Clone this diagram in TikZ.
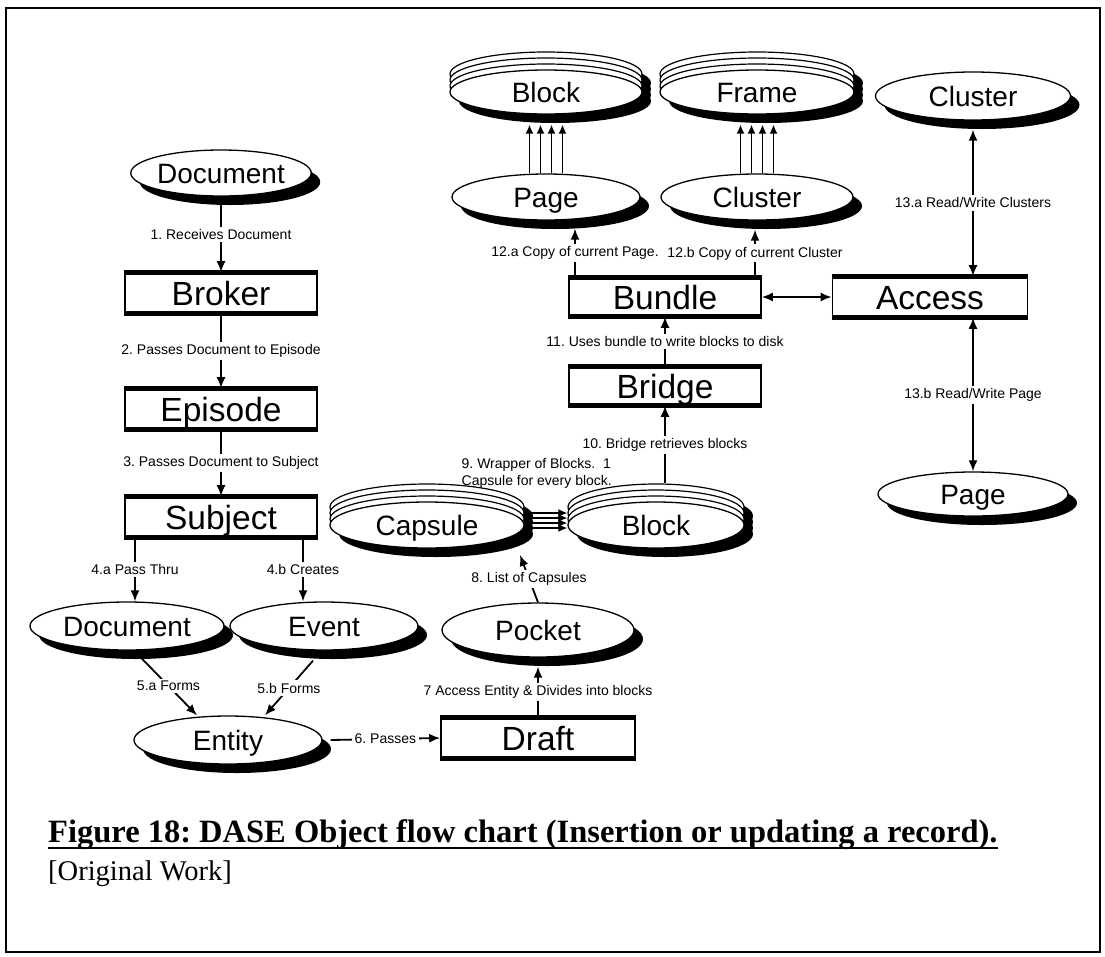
\documentclass[tikz,border=0pt]{standalone}
\usepackage{fontspec}
\setmainfont{Liberation Sans}
\newfontfamily\capfont{Liberation Serif}
\usetikzlibrary{shapes.geometric,shadows,calc,arrows.meta}
\frenchspacing
% three outlined ellipses stacked behind a front ellipse, each with its own black shadow
\newcommand\stacklayers[3]{%
  \foreach \k in {3,2,1}{%
    \fill[black] ($(#1)+(9,9-6*\k)$) ellipse [x radius=#2, y radius=#3];
    \draw[line width=1.2pt, fill=white] ($(#1)+(0,-6*\k)$) ellipse [x radius=#2, y radius=#3];
  }}
\begin{document}
\begin{tikzpicture}[x=1pt, y=-1pt,
  every node/.style={inner sep=0pt},
  box/.style={rectangle, draw, fill=white, line width=1.6pt,
    minimum width=192pt, minimum height=40pt,
    font=\fontsize{33.5}{33.5}\selectfont, text height=24pt, text depth=0pt,
    append after command={(\tikzlastnode.north west) edge[line width=4.8pt] (\tikzlastnode.north east)
      (\tikzlastnode.south west) edge[line width=4.8pt] (\tikzlastnode.south east)}},
  ell/.style={ellipse, draw, fill=white, line width=1.3pt,
    minimum width=190pt, minimum height=46pt,
    font=\fontsize{28}{28}\selectfont, text height=20pt, text depth=0pt,
    drop shadow={shadow xshift=9pt, shadow yshift=-9pt, fill=black, opacity=1}},
  arr/.style={-{Latex[length=11pt,width=9pt]}, line width=1.8pt},
  darr/.style={{Latex[length=11pt,width=9pt]}-{Latex[length=11pt,width=9pt]}, line width=1.8pt},
  arrs/.style={-{Latex[length=9pt,width=8pt]}, line width=1.5pt},
  lbl/.style={fill=white, inner sep=2.5pt, font=\fontsize{14}{16}\selectfont},
]
\useasboundingbox (0,0) rectangle (1105,956);

% ---- left column: document intake ----
\node[ell, minimum width=180pt] (doc1) at (221,173) {Document};
\node[box] (broker) at (221,293) {Broker};
\node[box] (episode) at (221,409) {Episode};
\node[box] (subject) at (221,517) {Subject};
\node[ell, minimum width=194pt, minimum height=48pt] (doc2) at (127,626) {Document};
\node[ell, minimum width=188pt, minimum height=48pt] (event) at (324,626) {Event};
\node[ell, minimum width=188pt, minimum height=48pt] (entity) at (228,740) {Entity};
\node[box, minimum width=194pt] (draft) at (538,738) {Draft};
\node[ell, minimum width=192pt, minimum height=54pt] (pocket) at (538,630) {Pocket};

% ---- capsules and blocks ----
\coordinate (capc) at (427,525);
\stacklayers{capc}{97}{23}
\node[ell, minimum width=194pt] (capsule) at (capc) {Capsule};
\coordinate (blkc) at (656,525);
\stacklayers{blkc}{88}{23}
\node[ell, minimum width=176pt] (block2) at (blkc) {Block};

% ---- storage side ----
\node[box, minimum height=38pt] (bridge) at (665,386) {Bridge};
\node[box, minimum height=38pt] (bundle) at (665,297) {Bundle};
\node[box, minimum width=195pt] (access) at (930,297) {Access};
\node[ell, minimum width=188pt] (page1) at (546,197) {Page};
\coordinate (b1c) at (546,92);
\stacklayers{b1c}{96}{22}
\node[ell, minimum width=192pt, minimum height=44pt] (block1) at (b1c) {Block};
\node[ell, minimum width=192pt] (cl2) at (757,197) {Cluster};
\coordinate (frc) at (757,92);
\stacklayers{frc}{97}{22}
\node[ell, minimum width=194pt, minimum height=44pt] (frame) at (frc) {Frame};
\node[ell, minimum width=195pt, minimum height=48pt] (cl3) at (973,96) {Cluster};
\node[ell, minimum width=190pt, minimum height=44pt] (page3) at (973,494) {Page};

% ---- connectors ----
\draw[arr] (doc1) -- node[lbl]{1. Receives Document} (broker);
\draw[arr] (broker) -- node[lbl]{2. Passes Document to Episode} (episode);
\draw[arr] (episode) -- node[lbl]{3. Passes Document to Subject} (subject);
\draw[arr] ([xshift=-86pt]subject.south) -- node[lbl]{4.a Pass Thru} ([xshift=-86pt]subject.south |- doc2.north);
\draw[arr] ([xshift=82pt]subject.south) -- node[lbl]{4.b Creates} ([xshift=82pt]subject.south |- event.north);
\draw[arr] ([xshift=13pt,yshift=-6pt]doc2.south) -- node[lbl]{5.a Forms} ([xshift=-31pt]entity.north);
\draw[arr] ([xshift=-11pt,yshift=-10pt]event.south) -- node[lbl]{5.b Forms} ([xshift=37pt]entity.north);
\draw[arr] ([xshift=8pt]entity.east) -- node[lbl]{6. Passes} (draft.west);
\draw[arr] (draft.north) -- node[lbl]{7 Access Entity \& Divides into blocks} ([yshift=-9pt]pocket.south);
\draw[arr] (pocket.north) -- node[lbl]{8. List of Capsules} ([xshift=93pt,yshift=-30pt]capsule.center);
\foreach \d in {12,7,2,-3}
  \draw[arrs] ([yshift=\d pt]capsule.east) -- ([yshift=\d pt]block2.west);
\node[lbl, fill=none, align=left, anchor=north west, font=\fontsize{14}{17}\selectfont] (l9) at (459,456)
  {9. Wrapper of Blocks.\ \ 1\\Capsule for every block.};
\draw[arr] ([xshift=9pt,yshift=18pt]block2.north) -- node[lbl]{10. Bridge retrieves blocks} (bridge.south);
\draw[arr] (bridge) -- node[lbl]{11. Uses bundle to write blocks to disk} (bundle);
\draw[arr] ([xshift=-90pt]bundle.north) -- node[lbl]{12.a Copy of current Page.} ([xshift=29pt,yshift=-8pt]page1.south);
\draw[arr] ([xshift=90pt]bundle.north) -- node[lbl]{12.b Copy of current Cluster} ([xshift=-2pt,yshift=-9pt]cl2.south);
\foreach \d in {-16.5,-5.5,5.5,16.5}{
  \draw[arrs] ([xshift=\d pt]page1.north) -- ([xshift=\d pt,yshift=-10pt]block1.south);
  \draw[arrs] ([xshift=\d pt]cl2.north) -- ([xshift=\d pt,yshift=-10pt]frame.south);
}
\draw[darr] (bundle.east) -- (access.west);
\draw[darr] ([yshift=-9pt]cl3.south) -- node[lbl]{13.a Read/Write Clusters} ([xshift=43pt]access.north);
\draw[darr] ([xshift=43pt]access.south) -- node[lbl]{13.b Read/Write Page} (page3.north);

% ---- caption ----
\node[anchor=base west, font=\capfont\bfseries\fontsize{32.5}{34}\selectfont] (cap) at (48,842)
  {Figure 18: DASE Object flow chart (Insertion or updating a record).};
\draw[line width=1.8pt] ([yshift=-6pt]cap.base west) -- ([yshift=-6pt]cap.base east);
\node[anchor=base west, font=\capfont\fontsize{28.5}{30}\selectfont] (orig) at (48,880) {[Original Work]};

% ---- outer frame ----
\draw[line width=2pt] (6,8) rectangle (1100,952);
\end{tikzpicture}
\end{document}
